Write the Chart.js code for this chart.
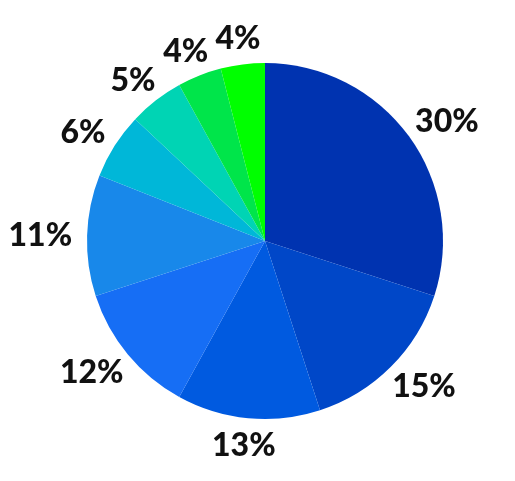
<!DOCTYPE html>
<html>
<head>
<meta charset="utf-8">
<script src="https://cdn.jsdelivr.net/npm/chart.js@4/dist/chart.umd.min.js"></script>
<style>
  html, body { margin: 0; padding: 0; background: #fff; }
  canvas { display: block; }
</style>
</head>
<body>
<canvas id="pieChart" width="515" height="481"></canvas>
<script>
// Data
const shareLabels = ['30%', '15%', '13%', '12%', '11%', '6%', '5%', '4%', '4%'];
const shareValues = [30, 15, 13, 12, 11, 6, 5, 4, 4];
const sliceColors = ['#0033b0', '#0047c8', '#005ae0', '#166ef5', '#1888ea', '#00b7d8', '#00d4b4', '#00e54a', '#00ff00'];

// Draws the percent labels just outside each slice
const outsideLabels = {
    id: 'outsideLabels',
    afterDatasetsDraw(chart) {
        const ctx = chart.ctx;
        const meta = chart.getDatasetMeta(0);
        ctx.save();
        ctx.font = '900 32px Lato, "DejaVu Sans", sans-serif';
        ctx.fillStyle = '#111';
        ctx.textAlign = 'center';
        ctx.textBaseline = 'middle';
        meta.data.forEach((arc, i) => {
            const mid = (arc.startAngle + arc.endAngle) / 2;
            const cos = Math.cos(mid);
            const sin = Math.sin(mid);
            const text = shareLabels[i];
            const w = ctx.measureText(text).width;
            const h = 23;
            const dist = arc.outerRadius + 15;
            const x = arc.x + dist * cos + (w / 2) * cos;
            const y = arc.y + dist * sin + (h / 2) * sin;
            ctx.fillText(text, x, y + 1);
        });
        ctx.restore();
    }
};

const ctx = document.getElementById('pieChart').getContext('2d');
new Chart(ctx, {
    type: 'pie',
    data: {
        labels: shareLabels,
        datasets: [{
            data: shareValues,
            backgroundColor: sliceColors,
            borderWidth: 0
        }]
    },
    options: {
        responsive: false,
        animation: false,
        layout: {
            padding: { left: 87, right: 72, top: 63, bottom: 62 }
        },
        plugins: {
            legend: { display: false },
            tooltip: { enabled: false }
        }
    },
    plugins: [outsideLabels]
});
</script>
</body>
</html>
